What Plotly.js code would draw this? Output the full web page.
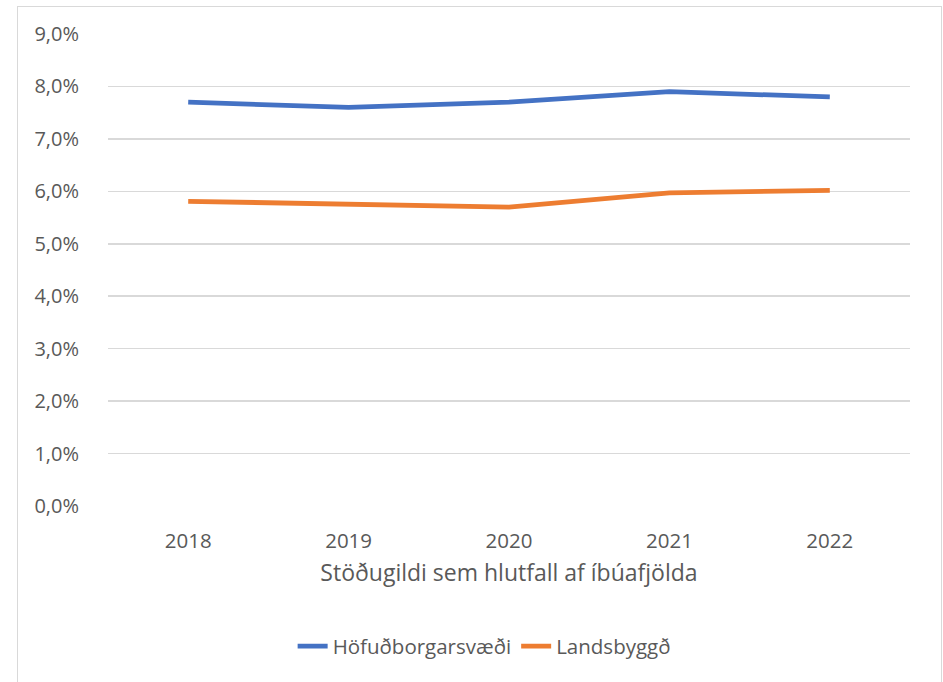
<!DOCTYPE html>
<html>
<head>
<meta charset="utf-8">
<script src="https://cdn.plot.ly/plotly-3.0.1.min.js"></script>
<style>
  html, body { margin: 0; padding: 0; background: #ffffff; }
  #frame { position: absolute; left: 17px; top: 6px; width: 925px; height: 700px; border: 1.5px solid #d9d9d9; box-sizing: border-box; }
  #chart { position: absolute; left: 0; top: 0; width: 943px; height: 682px; }
</style>
</head>
<body>
<div id="frame"></div>
<div id="chart"></div>
<script>
const years = ["2018", "2019", "2020", "2021", "2022"];
const hofudborgarsvaedi = [7.7, 7.6, 7.7, 7.9, 7.8];
const landsbyggd = [5.81, 5.75, 5.70, 5.97, 6.02];
const seriesNames = ["Höfuðborgarsvæði", "Landsbyggð"];
const xTitle = "Stöðugildi sem hlutfall af íbúafjölda";

const textColor = "#595959";
const font = "Open Sans, Noto Sans, sans-serif";

const traces = [
  { x: years, y: hofudborgarsvaedi, name: seriesNames[0], type: "scatter", mode: "lines",
    line: { color: "#4472C4", width: 4.8 } },
  { x: years, y: landsbyggd, name: seriesNames[1], type: "scatter", mode: "lines",
    line: { color: "#ED7D31", width: 4.8 } }
];

const layout = {
  width: 943, height: 682,
  margin: { l: 108, r: 33, t: 34, b: 176 },
  paper_bgcolor: "rgba(0,0,0,0)",
  plot_bgcolor: "rgba(0,0,0,0)",
  font: { family: font, color: textColor, size: 20 },
  showlegend: true,
  legend: { orientation: "h", x: 0.469, xanchor: "center", y: -0.255, yanchor: "top",
            font: { size: 20.5, color: textColor } },
  xaxis: {
    type: "category", range: [-0.5, 4.5],
    showgrid: false, zeroline: false, showline: false,
    ticks: "outside", ticklen: 16, tickcolor: "rgba(0,0,0,0)",
    tickfont: { size: 20.5, color: textColor },
    title: { text: xTitle, font: { size: 23, color: textColor }, standoff: 12 }
  },
  yaxis: {
    range: [0, 9], dtick: 1, tick0: 0,
    tickformat: ".1f", ticksuffix: "%",
    showgrid: true, gridcolor: "#d9d9d9", gridwidth: 1.5,
    zeroline: false, showline: false,
    ticks: "outside", ticklen: 24, tickcolor: "rgba(0,0,0,0)",
    tickfont: { size: 20, color: textColor }
  },
  separators: ", "
};

Plotly.newPlot("chart", traces, layout, { displayModeBar: false, staticPlot: true });
</script>
</body>
</html>
